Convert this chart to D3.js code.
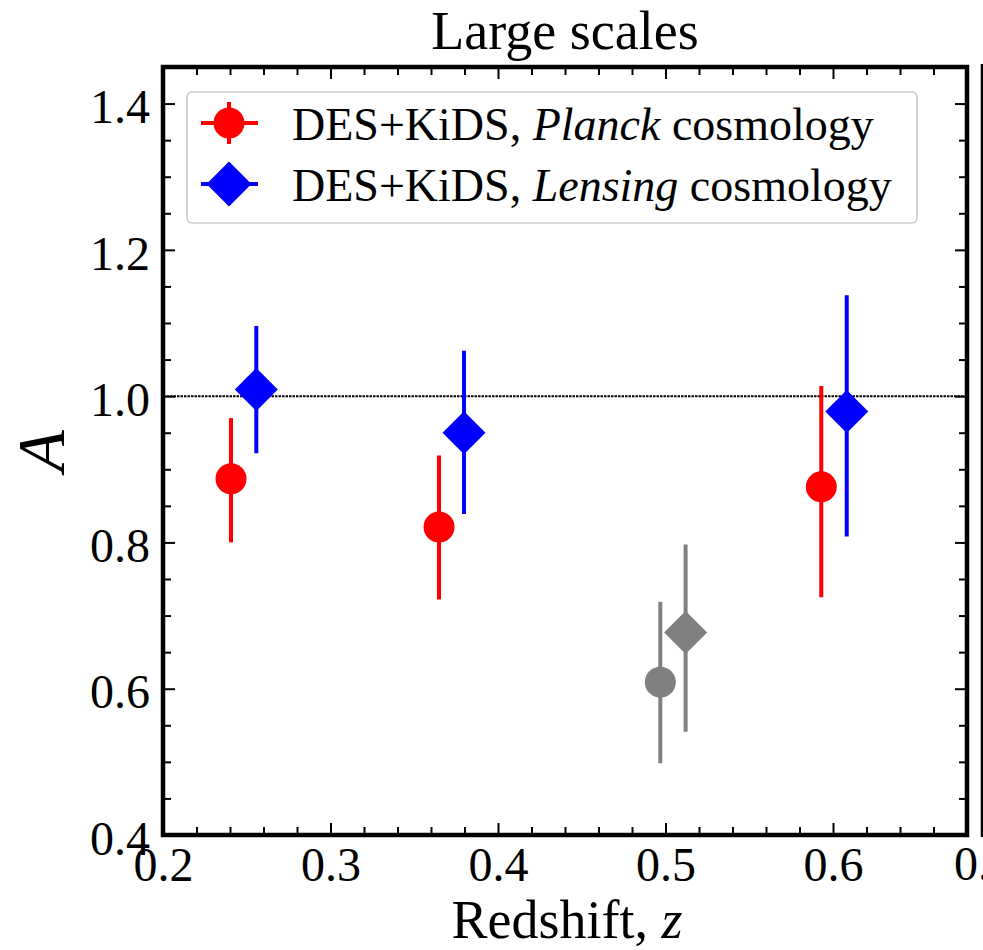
<!DOCTYPE html>
<html>
<head>
<meta charset="utf-8">
<script src="https://cdn.jsdelivr.net/npm/d3@7"></script>
<style>
  html, body { margin: 0; padding: 0; background: #fff; overflow: hidden; }
  svg { display: block; }
  text { font-family: "Liberation Serif", "Times New Roman", serif; fill: #000; }
</style>
</head>
<body>
<script>
// Amplitude A per redshift bin, large scales
const planckZ  = [0.2406, 0.3648, 0.5930];
const planckA  = [0.887, 0.821, 0.876];
const planckLo = [0.800, 0.722, 0.725];
const planckHi = [0.970, 0.919, 1.014];

const lensingZ  = [0.2557, 0.3797, 0.6082];
const lensingA  = [1.009, 0.950, 0.979];
const lensingLo = [0.922, 0.839, 0.808];
const lensingHi = [1.096, 1.062, 1.138];

// bin shown in grey (circle = Planck, diamond = Lensing)
const greyZ     = [0.4969, 0.5120];
const greyA     = [0.609, 0.677];
const greyLo    = [0.498, 0.541];
const greyHi    = [0.719, 0.797];
const greyShape = ["circle", "diamond"];

const xMajor = [0.2, 0.3, 0.4, 0.5, 0.6];
const yMajor = [0.4, 0.6, 0.8, 1.0, 1.2, 1.4];
const legendLabels = [
  { pre: "DES+KiDS, ", it: "Planck", post: " cosmology", color: "#ff0000", shape: "circle" },
  { pre: "DES+KiDS, ", it: "Lensing", post: " cosmology", color: "#0000ff", shape: "diamond" }
];

const W = 983, H = 950;
const L = 163, R = 967, T = 67, B = 835;

const svg = d3.select("body").append("svg").attr("width", W).attr("height", H);

const x = d3.scaleLinear().domain([0.2, 0.68]).range([L, R]);
const y = d3.scaleLinear().domain([0.4, 1.45]).range([B, T]);

const xMinor = d3.range(0.2, 0.6801, 0.02).map(v => +v.toFixed(2)).filter(v => !xMajor.some(m => Math.abs(m - v) < 1e-9));
const yMinor = d3.range(0.4, 1.4501, 0.05).map(v => +v.toFixed(2)).filter(v => !yMajor.some(m => Math.abs(m - v) < 1e-9));

const tickW = 2, majLen = 12, minLen = 8;

function styleAxis(g) {
  g.select(".domain").remove();
  g.selectAll(".tick line").attr("stroke", "#000").attr("stroke-width", tickW);
}

// bottom axis: major with labels, minor without
svg.append("g").attr("transform", `translate(0,${B})`)
  .call(d3.axisBottom(x).tickValues(xMajor).tickSize(-majLen).tickPadding(12).tickFormat(d3.format(".1f")))
  .call(styleAxis)
  .selectAll("text").attr("font-size", 48);
svg.append("g").attr("transform", `translate(0,${B})`)
  .call(d3.axisBottom(x).tickValues(xMinor).tickSize(-minLen).tickFormat(""))
  .call(styleAxis);
// top axis ticks
svg.append("g").attr("transform", `translate(0,${T})`)
  .call(d3.axisTop(x).tickValues(xMajor).tickSize(-majLen).tickFormat(""))
  .call(styleAxis);
svg.append("g").attr("transform", `translate(0,${T})`)
  .call(d3.axisTop(x).tickValues(xMinor).tickSize(-minLen).tickFormat(""))
  .call(styleAxis);

// left axis
svg.append("g").attr("transform", `translate(${L},0)`)
  .call(d3.axisLeft(y).tickValues(yMajor).tickSize(-majLen).tickPadding(13).tickFormat(d3.format(".1f")))
  .call(styleAxis)
  .selectAll("text").attr("font-size", 48).attr("dy", "0.40em");
svg.append("g").attr("transform", `translate(${L},0)`)
  .call(d3.axisLeft(y).tickValues(yMinor).tickSize(-minLen).tickFormat(""))
  .call(styleAxis);
// right axis ticks
svg.append("g").attr("transform", `translate(${R},0)`)
  .call(d3.axisRight(y).tickValues(yMajor).tickSize(-majLen).tickFormat(""))
  .call(styleAxis);
svg.append("g").attr("transform", `translate(${R},0)`)
  .call(d3.axisRight(y).tickValues(yMinor).tickSize(-minLen).tickFormat(""))
  .call(styleAxis);

// reference line at A = 1
svg.append("line")
  .attr("x1", L).attr("x2", R).attr("y1", y(1)).attr("y2", y(1))
  .attr("stroke", "#000").attr("stroke-width", 2).attr("stroke-dasharray", "2.5,1");

const circleR = 15.5, diamondH = 21.5;
const diamondPath = s => `M0,${-s}L${s},0L0,${s}L${-s},0Z`;

function drawSeries(zs, as, los, his, color, shapes) {
  const g = svg.append("g");
  zs.forEach((z, i) => {
    g.append("line")
      .attr("x1", x(z)).attr("x2", x(z))
      .attr("y1", y(los[i])).attr("y2", y(his[i]))
      .attr("stroke", color).attr("stroke-width", 4);
    const shape = Array.isArray(shapes) ? shapes[i] : shapes;
    if (shape === "circle") {
      g.append("circle").attr("cx", x(z)).attr("cy", y(as[i])).attr("r", circleR).attr("fill", color);
    } else {
      g.append("path").attr("transform", `translate(${x(z)},${y(as[i])})`)
        .attr("d", diamondPath(diamondH)).attr("fill", color);
    }
  });
}

drawSeries(greyZ, greyA, greyLo, greyHi, "#808080", greyShape);
drawSeries(planckZ, planckA, planckLo, planckHi, "#ff0000", "circle");
drawSeries(lensingZ, lensingA, lensingLo, lensingHi, "#0000ff", "diamond");

// frame
svg.append("rect").attr("x", L).attr("y", T).attr("width", R - L).attr("height", B - T)
  .attr("fill", "none").attr("stroke", "#000").attr("stroke-width", 4.5);

// edge of the neighbouring panel
svg.append("line").attr("x1", 983).attr("x2", 983).attr("y1", 64).attr("y2", 837)
  .attr("stroke", "#000").attr("stroke-width", 4.5);
svg.append("text").attr("x", 984).attr("y", 880).attr("text-anchor", "middle")
  .attr("font-size", 48).text("0.2");

// legend
const lg = svg.append("g");
lg.append("rect").attr("x", 187).attr("y", 92).attr("width", 730).attr("height", 131)
  .attr("rx", 5).attr("fill", "#fff").attr("stroke", "#cccccc").attr("stroke-width", 1.6);
legendLabels.forEach((d, i) => {
  const cy = 123 + i * 61;
  lg.append("line").attr("x1", 201).attr("x2", 258).attr("y1", cy).attr("y2", cy)
    .attr("stroke", d.color).attr("stroke-width", 4);
  lg.append("line").attr("x1", 229).attr("x2", 229).attr("y1", cy - 21).attr("y2", cy + 21)
    .attr("stroke", d.color).attr("stroke-width", 4);
  if (d.shape === "circle") {
    lg.append("circle").attr("cx", 229).attr("cy", cy).attr("r", circleR).attr("fill", d.color);
  } else {
    lg.append("path").attr("transform", `translate(229,${cy})`).attr("d", diamondPath(22.5)).attr("fill", d.color);
  }
  const t = lg.append("text").attr("x", 292).attr("y", cy + 17).attr("font-size", 46);
  t.append("tspan").text(d.pre);
  t.append("tspan").attr("font-style", "italic").text(d.it);
  t.append("tspan").text(d.post);
});

// title and axis labels
svg.append("text").attr("x", (L + R) / 2).attr("y", 49).attr("text-anchor", "middle")
  .attr("font-size", 54).text("Large scales");

const xl = svg.append("text").attr("x", (L + R) / 2 + 2).attr("y", 938).attr("text-anchor", "middle")
  .attr("font-size", 54);
xl.append("tspan").text("Redshift, ");
xl.append("tspan").attr("font-style", "italic").text("z");

svg.append("text").attr("transform", `translate(64,${(T + B) / 2}) rotate(-90)`)
  .attr("text-anchor", "middle").attr("font-size", 68).attr("font-style", "italic").text("A");
</script>
</body>
</html>
